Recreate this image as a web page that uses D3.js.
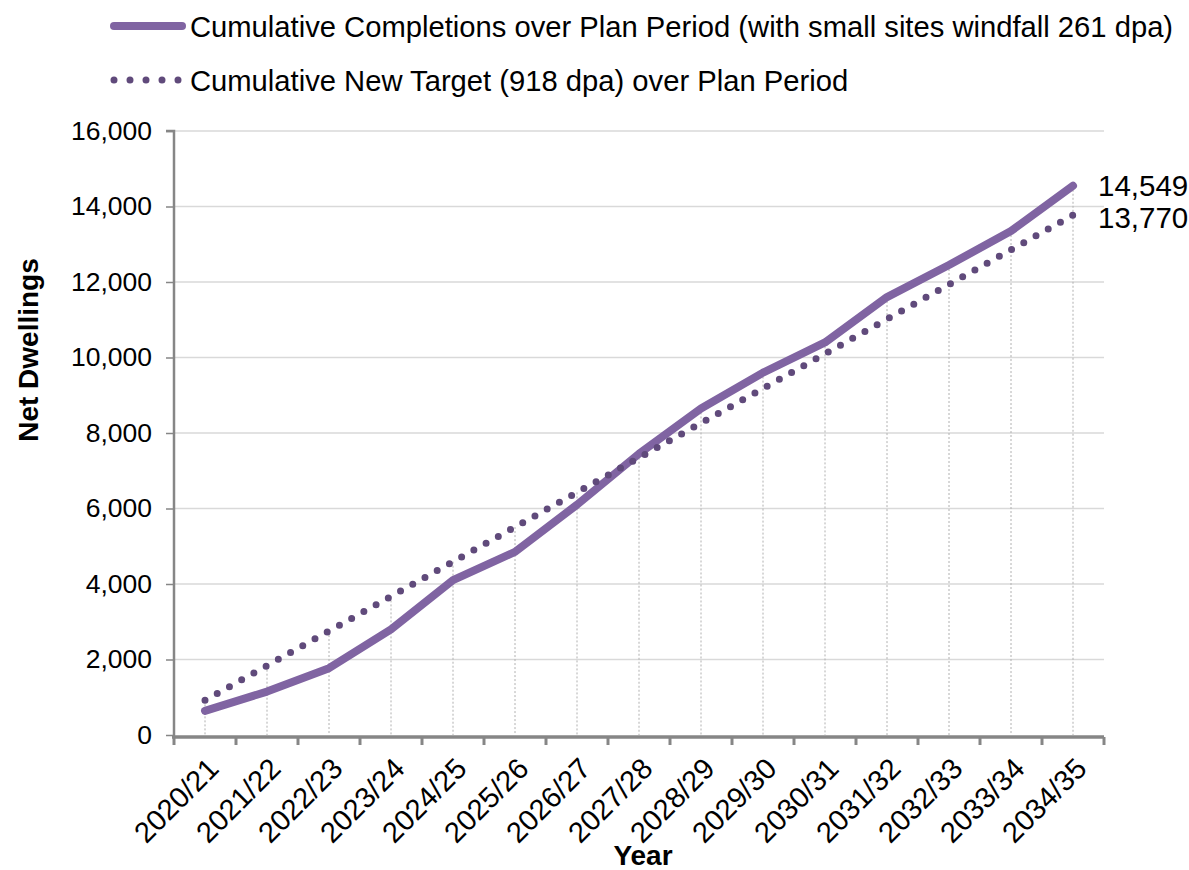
<!DOCTYPE html>
<html><head><meta charset="utf-8">
<script src="https://cdn.jsdelivr.net/npm/d3@7"></script>
<style>body{margin:0;background:#fff}svg{display:block;font-family:"Liberation Sans",Arial,sans-serif}</style>
</head><body><svg id="c" width="1189" height="870"></svg>
<script>
const years = ["2020/21","2021/22","2022/23","2023/24","2024/25","2025/26","2026/27","2027/28","2028/29","2029/30","2030/31","2031/32","2032/33","2033/34","2034/35"];
const completions = [640,1150,1770,2800,4100,4850,6100,7450,8650,9600,10400,11600,12450,13350,14549];
const target = [918,1836,2754,3672,4590,5508,6426,7344,8262,9180,10098,11016,11934,12852,13770];
const yTicks = [0,2000,4000,6000,8000,10000,12000,14000,16000];
const seriesNames = ["Cumulative Completions over Plan Period (with small sites windfall 261 dpa)","Cumulative New Target (918 dpa) over Plan Period"];

const svg = d3.select("#c");
const L=174, R=1104, T=131, B=735;
const x = d3.scaleBand().domain(years).range([L,R]);
const cx = d => x(d)+x.bandwidth()/2;
const y = d3.scaleLinear().domain([0,16000]).range([B,T]);
const fmt = d3.format(",");

// gridlines
svg.append("g").selectAll("line").data(yTicks.filter(d=>d>0)).join("line")
  .attr("x1",L).attr("x2",R).attr("y1",d=>y(d)).attr("y2",d=>y(d))
  .attr("stroke","#d9d9d9").attr("stroke-width",1.5);

// drop lines
svg.append("g").selectAll("line").data(years).join("line")
  .attr("x1",d=>cx(d)).attr("x2",d=>cx(d))
  .attr("y1",(d,i)=>y(Math.max(completions[i],target[i]))).attr("y2",B)
  .attr("stroke","#b0b0b0").attr("stroke-width",1).attr("stroke-dasharray","2,2");

// y axis
const ya = svg.append("g").attr("transform",`translate(${L},0)`)
  .call(d3.axisLeft(y).tickValues(yTicks).tickFormat(fmt).tickSize(8).tickPadding(14));
ya.select(".domain").attr("stroke","#868686").attr("stroke-width",2.5).attr("d",`M-8,${T}H0V${B+1}`);
ya.selectAll(".tick line").attr("stroke","#868686").attr("stroke-width",1.5);
ya.selectAll(".tick text").attr("font-size",26.5).attr("fill","#000").attr("font-family","Liberation Sans, Arial");

// x axis
const xa = svg.append("g").attr("transform",`translate(0,${B+2})`)
  .call(d3.axisBottom(x).tickSize(0).tickFormat(""));
xa.select(".domain").attr("stroke","#868686").attr("stroke-width",3.5).attr("d",`M${L-2},0H${R}`);
const tickPos = d3.range(years.length+1).map(i=>L+i*x.step());
xa.selectAll("line.tk").data(tickPos).join("line").attr("class","tk")
  .attr("x1",d=>d).attr("x2",d=>d).attr("y1",0).attr("y2",8)
  .attr("stroke","#868686").attr("stroke-width",3);
svg.append("g").selectAll("text").data(years).join("text")
  .attr("transform",d=>`translate(${cx(d)+1},${B+21}) rotate(-45)`)
  .attr("text-anchor","end").attr("dy","0.7em").attr("font-size",29).attr("fill","#000").text(d=>d);

// lines
const line = d3.line().x((d,i)=>cx(years[i])).y(d=>y(d));
svg.append("path").datum(completions).attr("d",line).attr("fill","none")
  .attr("stroke","#8064a2").attr("stroke-width",8).attr("stroke-linejoin","round").attr("stroke-linecap","round");
svg.append("path").datum(target).attr("d",line).attr("fill","none")
  .attr("stroke","#604a7b").attr("stroke-width",7).attr("stroke-dasharray","0,14").attr("stroke-linecap","round");

// end labels
svg.append("text").attr("x",cx(years[14])+25).attr("y",y(completions[14])).attr("dy","0.36em")
  .attr("font-size",29.5).text(fmt(completions[14]));
svg.append("text").attr("x",cx(years[14])+25).attr("y",y(target[14])+2).attr("dy","0.36em")
  .attr("font-size",29.5).text(fmt(target[14]));

// axis titles
svg.append("text").attr("transform","translate(38,350) rotate(-90)").attr("text-anchor","middle")
  .attr("font-size",28).attr("font-weight","bold").text("Net Dwellings");
svg.append("text").attr("x",643).attr("y",865).attr("text-anchor","middle")
  .attr("font-size",28).attr("font-weight","bold").text("Year");

// legend
svg.append("line").attr("x1",114).attr("x2",182).attr("y1",26).attr("y2",26)
  .attr("stroke","#8064a2").attr("stroke-width",8).attr("stroke-linecap","round");
svg.append("text").attr("x",190).attr("y",26).attr("dy","0.36em").attr("font-size",29.2).text(seriesNames[0]);
svg.append("line").attr("x1",114).attr("x2",180).attr("y1",80).attr("y2",80)
  .attr("stroke","#604a7b").attr("stroke-width",7).attr("stroke-dasharray","0,16").attr("stroke-linecap","round");
svg.append("text").attr("x",190).attr("y",80).attr("dy","0.36em").attr("font-size",29.2).text(seriesNames[1]);
</script></body></html>
